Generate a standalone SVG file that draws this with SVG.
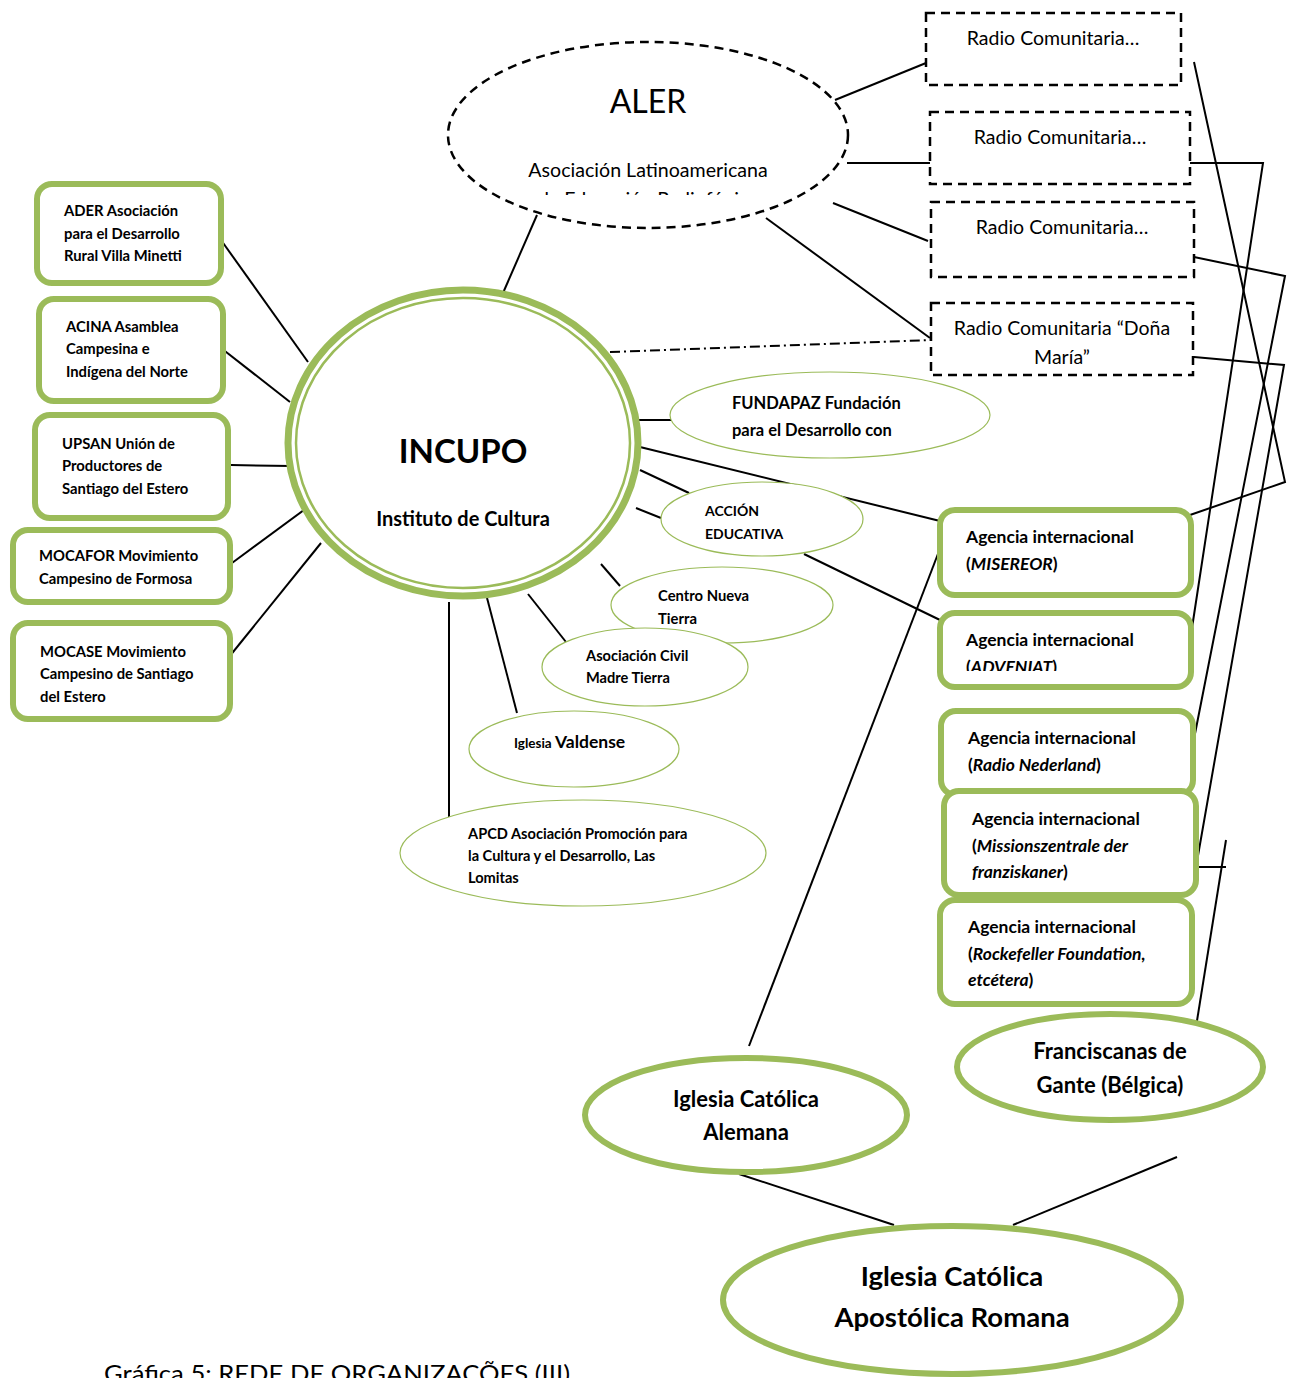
<svg xmlns="http://www.w3.org/2000/svg" width="1294" height="1378" viewBox="0 0 1294 1378">
<style>
text{font-family:Lato,"Open Sans","Liberation Sans",sans-serif;fill:#000}
.b{font-weight:bold}
.gbox{fill:#fff;stroke:#9BBB59;stroke-width:6}
.gell{fill:#fff;stroke:#9BBB59;stroke-width:1.2}
.gthick{fill:#fff;stroke:#9BBB59;stroke-width:6}
.dash{fill:#fff;stroke:#000;stroke-width:2.5;stroke-dasharray:9 6}
.ln{fill:none;stroke:#000;stroke-width:2}
.c{text-anchor:middle}
</style>
<defs>
<clipPath id="alerclip"><rect x="440" y="30" width="420" height="165"/></clipPath>
<clipPath id="advclip"><rect x="930" y="600" width="270" height="71"/></clipPath>
</defs>
<rect width="1294" height="1378" fill="#fff"/>

<g id="connectors">
<line class="ln" x1="835" y1="100" x2="926" y2="63"/>
<line class="ln" x1="847" y1="163" x2="930" y2="163"/>
<line class="ln" x1="833" y1="203" x2="928" y2="241"/>
<line class="ln" x1="766" y1="218" x2="930" y2="338"/>
<line class="ln" x1="537" y1="215" x2="503" y2="293"/>
<line class="ln" x1="610" y1="352" x2="931" y2="340" stroke-dasharray="10 4 2 4" stroke-width="1.5"/>
<line class="ln" x1="221" y1="240" x2="308" y2="362"/>
<line class="ln" x1="221" y1="348" x2="290" y2="402"/>
<line class="ln" x1="231" y1="465" x2="291" y2="466"/>
<line class="ln" x1="232" y1="563" x2="308" y2="507"/>
<line class="ln" x1="229" y1="657" x2="321" y2="543"/>
<line class="ln" x1="636" y1="420" x2="671" y2="420"/>
<line class="ln" x1="640" y1="470" x2="689" y2="493"/>
<line class="ln" x1="636" y1="508" x2="661" y2="518"/>
<line class="ln" x1="640" y1="447" x2="940" y2="521"/>
<line class="ln" x1="804" y1="554" x2="940" y2="620"/>
<line class="ln" x1="601" y1="564" x2="620" y2="586"/>
<line class="ln" x1="528" y1="594" x2="566" y2="642"/>
<line class="ln" x1="486" y1="594" x2="517" y2="713"/>
<line class="ln" x1="449" y1="602" x2="449" y2="817"/>
<line class="ln" x1="749" y1="1046" x2="941" y2="546"/>
<line class="ln" x1="739" y1="1174" x2="894" y2="1225"/>
<line class="ln" x1="1013" y1="1225" x2="1177" y2="1157"/>
<polyline class="ln" points="1194,62 1285,482 1190,515"/>
<polyline class="ln" points="1190,163 1263,163 1192,628"/>
<polyline class="ln" points="1194,257 1285,276 1192,749"/>
<polyline class="ln" points="1194,357 1284,365 1196,867 1226,867"/>
<line class="ln" x1="1226" y1="840" x2="1196" y2="1027"/>
</g>

<g id="aler">
<ellipse class="dash" cx="648" cy="135" rx="200" ry="93"/>
<text class="c" x="648" y="113" font-size="32">ALER</text>
<text class="c" x="648" y="177" font-size="19.6">Asociación Latinoamericana</text>
<text class="c" x="648" y="206" font-size="19.6" clip-path="url(#alerclip)">de Educación Radiofónica</text>
</g>

<g id="radio1"><rect class="dash" x="926" y="13" width="255" height="72"/><text class="c" x="1053" y="45" font-size="19.5">Radio Comunitaria…</text></g>
<g id="radio2"><rect class="dash" x="930" y="112" width="260" height="72"/><text class="c" x="1060" y="144" font-size="19.5">Radio Comunitaria…</text></g>
<g id="radio3"><rect class="dash" x="931" y="202" width="263" height="75"/><text class="c" x="1062" y="234" font-size="19.5">Radio Comunitaria…</text></g>
<g id="radio4"><rect class="dash" x="931" y="303" width="262" height="72"/><text class="c" x="1062" y="335" font-size="19.5">Radio Comunitaria “Doña</text><text class="c" x="1062" y="364" font-size="19.5">María”</text></g>

<g id="incupo">
<ellipse cx="463" cy="443" rx="175" ry="153" fill="#fff" stroke="#9BBB59" stroke-width="7"/>
<ellipse cx="463" cy="443" rx="167" ry="145" fill="none" stroke="#9BBB59" stroke-width="2.5"/>
<text class="c b" x="463" y="463" font-size="33">INCUPO</text>
<text class="c b" x="463" y="526" font-size="20">Instituto de Cultura</text>
</g>

<g id="ader"><rect class="gbox" x="37" y="184" width="184" height="99" rx="15"/>
<text class="b" font-size="14.8"><tspan x="64" y="216">ADER Asociación</tspan><tspan x="64" y="239">para el Desarrollo</tspan><tspan x="64" y="261">Rural Villa Minetti</tspan></text></g>
<g id="acina"><rect class="gbox" x="39" y="299" width="184" height="102" rx="15"/>
<text class="b" font-size="14.8"><tspan x="66" y="332">ACINA Asamblea</tspan><tspan x="66" y="354">Campesina e</tspan><tspan x="66" y="377">Indígena del Norte</tspan></text></g>
<g id="upsan"><rect class="gbox" x="35" y="415" width="193" height="103" rx="15"/>
<text class="b" font-size="14.8"><tspan x="62" y="449">UPSAN Unión de</tspan><tspan x="62" y="471">Productores de</tspan><tspan x="62" y="494">Santiago del Estero</tspan></text></g>
<g id="mocafor"><rect class="gbox" x="13" y="530" width="217" height="72" rx="15"/>
<text class="b" font-size="14.8"><tspan x="39" y="561">MOCAFOR Movimiento</tspan><tspan x="39" y="584">Campesino de Formosa</tspan></text></g>
<g id="mocase"><rect class="gbox" x="13" y="623" width="217" height="96" rx="15"/>
<text class="b" font-size="14.8"><tspan x="40" y="657">MOCASE Movimiento</tspan><tspan x="40" y="679">Campesino de Santiago</tspan><tspan x="40" y="702">del Estero</tspan></text></g>

<g id="fundapaz"><ellipse class="gell" cx="830" cy="415" rx="160" ry="43"/>
<text class="b" font-size="16.5"><tspan x="732" y="409">FUNDAPAZ Fundación</tspan><tspan x="732" y="436">para el Desarrollo con</tspan></text></g>
<g id="accion"><ellipse class="gell" cx="762" cy="519" rx="101" ry="37"/>
<text class="b" font-size="14"><tspan x="705" y="516">ACCIÓN</tspan><tspan x="705" y="539">EDUCATIVA</tspan></text></g>
<g id="centro"><ellipse class="gell" cx="722" cy="605" rx="111" ry="38"/>
<text class="b" font-size="14.8"><tspan x="658" y="601">Centro Nueva</tspan><tspan x="658" y="624">Tierra</tspan></text></g>
<g id="madre"><ellipse class="gell" cx="645" cy="667" rx="103" ry="39"/>
<text class="b" font-size="14.6"><tspan x="586" y="661">Asociación Civil</tspan><tspan x="586" y="683">Madre Tierra</tspan></text></g>
<g id="valdense"><ellipse class="gell" cx="574" cy="749" rx="105" ry="38"/>
<text class="b" x="514" y="748"><tspan font-size="13.5">Iglesia </tspan><tspan font-size="17.5">Valdense</tspan></text></g>
<g id="apcd"><ellipse class="gell" cx="583" cy="853" rx="183" ry="53"/>
<text class="b" font-size="14.6"><tspan x="468" y="839">APCD Asociación Promoción para</tspan><tspan x="468" y="861">la Cultura y el Desarrollo, Las</tspan><tspan x="468" y="883">Lomitas</tspan></text></g>

<g id="misereor"><rect class="gbox" x="940" y="510" width="251" height="85" rx="15"/>
<text class="b" font-size="17.5"><tspan x="966" y="543">Agencia internacional</tspan><tspan x="966" y="570">(<tspan font-style="italic">MISEREOR</tspan>)</tspan></text></g>
<g id="adveniat"><rect class="gbox" x="940" y="613" width="251" height="74" rx="15"/>
<text class="b" font-size="17.5"><tspan x="966" y="646">Agencia internacional</tspan></text>
<text class="b" font-size="17.5" clip-path="url(#advclip)" x="966" y="673">(<tspan font-style="italic">ADVENIAT</tspan>)</text></g>
<g id="nederland"><rect class="gbox" x="941" y="711" width="252" height="84" rx="15"/>
<text class="b" font-size="17.5"><tspan x="968" y="744">Agencia internacional</tspan><tspan x="968" y="771">(<tspan font-style="italic">Radio Nederland</tspan>)</tspan></text></g>
<g id="missions"><rect class="gbox" x="944" y="791" width="252" height="104" rx="15"/>
<text class="b" font-size="17.5"><tspan x="972" y="825">Agencia internacional</tspan><tspan x="972" y="852">(<tspan font-style="italic">Missionszentrale der</tspan></tspan><tspan x="972" y="878"><tspan font-style="italic">franziskaner</tspan>)</tspan></text></g>
<g id="rockefeller"><rect class="gbox" x="940" y="900" width="252" height="104" rx="15"/>
<text class="b" font-size="17.5"><tspan x="968" y="933">Agencia internacional</tspan><tspan x="968" y="960">(<tspan font-style="italic">Rockefeller Foundation,</tspan></tspan><tspan x="968" y="986"><tspan font-style="italic">etcétera</tspan>)</tspan></text></g>

<g id="franciscanas"><ellipse class="gthick" cx="1110" cy="1067" rx="153" ry="53"/>
<text class="c b" font-size="22"><tspan x="1110" y="1059">Franciscanas de</tspan><tspan x="1110" y="1093">Gante (Bélgica)</tspan></text></g>
<g id="alemana"><ellipse class="gthick" cx="746" cy="1115" rx="161" ry="57"/>
<text class="c b" font-size="22"><tspan x="746" y="1107">Iglesia Católica</tspan><tspan x="746" y="1140">Alemana</tspan></text></g>
<g id="romana"><ellipse class="gthick" cx="952" cy="1300" rx="229" ry="74"/>
<text class="c b" font-size="27.5"><tspan x="952" y="1286">Iglesia Católica</tspan><tspan x="952" y="1327">Apostólica Romana</tspan></text></g>

<text x="104" y="1382" font-size="23" textLength="466" lengthAdjust="spacingAndGlyphs">Gráfica 5: REDE DE ORGANIZAÇÕES (III)</text>
</svg>
